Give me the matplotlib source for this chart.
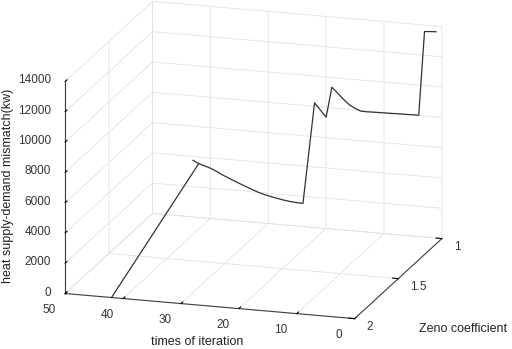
import matplotlib
matplotlib.use("Agg")
import matplotlib.pyplot as plt
import numpy as np
from mpl_toolkits.mplot3d import proj3d

# connecting segment (start point on the front plane)
start_iter = [42, 42]
start_zeno = [2.0, 1.0]
start_mismatch = [0, 3560]

# main curve at Zeno coefficient = 1
iterations = list(range(43, 0, -1))
mismatch = [3740, 3555, 3440, 3320, 3160, 2960, 2800, 2640, 2480, 2330,
            2180, 2040, 1920, 1830, 1750, 1680, 1615, 1570, 1540, 1520,
            4880, 8230, 7790, 7350, 9365, 9000, 8630, 8300, 8100, 7950,
            7940, 7950, 7955, 7965, 7970, 7980, 7990, 7995, 8005, 8013,
            13570, 13600, 13620]
zeno = [1.0] * len(iterations)

x_ticks = [0, 10, 20, 30, 40, 50]
x_ticklabels = ["0", "10", "20", "30", "40", "50"]
y_ticks = [1, 1.5, 2]
y_ticklabels = ["1", "1.5", "2"]
z_ticks = [0, 2000, 4000, 6000, 8000, 10000, 12000, 14000]
z_ticklabels = ["0", "2000", "4000", "6000", "8000", "10000", "12000", "14000"]

plt.rcParams["font.family"] = ["Liberation Sans", "DejaVu Sans"]
plt.rcParams["grid.color"] = "#e2e2e2"
plt.rcParams["grid.linewidth"] = 0.6

fig = plt.figure(figsize=(5.12, 3.49), dpi=100)
ax = fig.add_axes([-0.014, 0.028, 1.0, 1.0], projection="3d", proj_type="ortho")
ax.view_init(elev=16.4, azim=107.1)
ax.set_box_aspect((1, 0.98, 0.73), zoom=1.33)

ax.plot(start_iter, start_zeno, start_mismatch, color="#333333", lw=0.9,
        clip_on=False)
ax.plot(iterations, zeno, mismatch, color="#333333", lw=0.9, clip_on=False)

ax.set_xlim(0, 50)
ax.set_ylim(1, 2)
ax.set_zlim(0, 14000)
ax.set_xticks(x_ticks)
ax.set_yticks(y_ticks)
ax.set_zticks(z_ticks)

for axis in (ax.xaxis, ax.yaxis, ax.zaxis):
    axis.set_pane_color((1, 1, 1, 0))
    axis.pane.set_edgecolor((1, 1, 1, 0))
    axis.line.set_color("#404040")
    axis.line.set_linewidth(0.8)
    axis._axinfo["tick"]["inward_factor"] = 0.0
    axis._axinfo["tick"]["outward_factor"] = 0.25
    axis._axinfo["tick"]["color"] = "#404040"
    axis.set_tick_params(label1On=False, label2On=False, width=0.6)
    axis.label.set_visible(False)
    axis.offsetText.set_visible(False)

ax.zaxis.set_ticks_position("upper")

# tick labels placed at the projected tick positions, offset in pixels
M = ax.get_proj()
lab_kw = dict(fontsize=8.5, color="#333333", xycoords="data",
              textcoords="offset pixels", annotation_clip=False)
for t, s in zip(x_ticks, x_ticklabels):
    px, py, _ = proj3d.proj_transform(t, 2.0, 0.0, M)
    ax.annotate(s, xy=(px, py), xytext=(-16, -16), ha="center", va="center",
                **lab_kw)
for t, s in zip(y_ticks, y_ticklabels):
    px, py, _ = proj3d.proj_transform(0.0, t, 0.0, M)
    ax.annotate(s, xy=(px, py), xytext=(12, -8), ha="left", va="center",
                **lab_kw)
for t, s in zip(z_ticks, z_ticklabels):
    px, py, _ = proj3d.proj_transform(50.0, 2.0, t, M)
    ax.annotate(s, xy=(px, py), xytext=(-14, 1), ha="right", va="center",
                **lab_kw)

fig.text(0.385, 0.02, "times of iteration", fontsize=9, color="#222222",
         ha="center", va="center")
fig.text(0.904, 0.057, "Zeno coefficient", fontsize=9, color="#222222",
         ha="center", va="center")
fig.text(0.016, 0.467, "heat supply-demand mismatch(kw)", fontsize=9,
         color="#222222", ha="center", va="center", rotation=90)

fig.savefig("out.png", dpi=100)
